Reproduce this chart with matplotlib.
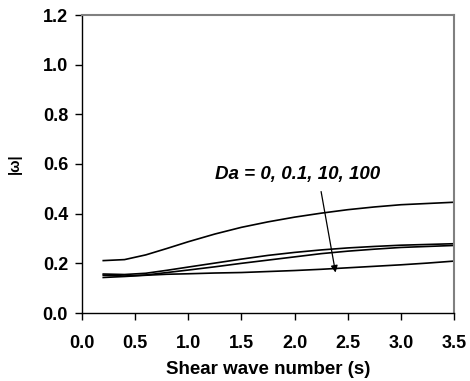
import matplotlib
matplotlib.use("Agg")
import matplotlib.pyplot as plt

plt.rcParams['font.family'] = ['Liberation Sans', 'DejaVu Sans']

# shear wave number s
s = [0.2, 0.4, 0.6, 0.8, 1.0, 1.25, 1.5, 1.75, 2.0, 2.25, 2.5, 2.75, 3.0, 3.25, 3.5]

# |omega| for Da = 0, 0.1, 10, 100
omega_a = [0.211, 0.215, 0.234, 0.260, 0.287, 0.318, 0.345, 0.367, 0.386,
           0.402, 0.416, 0.427, 0.436, 0.441, 0.446]
omega_b = [0.157, 0.155, 0.160, 0.172, 0.185, 0.201, 0.217, 0.232, 0.244,
           0.254, 0.262, 0.268, 0.273, 0.276, 0.279]
omega_c = [0.152, 0.149, 0.153, 0.163, 0.173, 0.186, 0.200, 0.213, 0.226,
           0.239, 0.249, 0.257, 0.264, 0.268, 0.272]
omega_d = [0.143, 0.147, 0.152, 0.156, 0.158, 0.161, 0.163, 0.167, 0.171,
           0.176, 0.182, 0.188, 0.194, 0.201, 0.209]

xticks = [0.0, 0.5, 1.0, 1.5, 2.0, 2.5, 3.0, 3.5]
yticks = [0.0, 0.2, 0.4, 0.6, 0.8, 1.0, 1.2]

fig = plt.figure(figsize=(4.7, 3.81), dpi=100)
ax = fig.add_axes([82/470, 1 - 313/381, (454-82)/470, (313-15)/381])

for y in [omega_a, omega_b, omega_c, omega_d]:
    ax.plot(s, y, color='black', lw=1.2)

# arrow pointing through the curves in order of Da
ax.annotate('', xy=(2.39, 0.152), xytext=(2.245, 0.50),
            arrowprops=dict(arrowstyle='-|>', color='black', lw=0.9,
                            mutation_scale=10))
ax.text(2.03, 0.557, 'Da = 0, 0.1, 10, 100', fontsize=13.5,
        fontweight='bold', style='italic', ha='center', va='center')

ax.set_xlim(0, 3.5)
ax.set_ylim(0, 1.2)
ax.set_xticks(xticks)
ax.set_yticks(yticks)
ax.set_xticklabels(['%.1f' % v for v in xticks], fontsize=13, fontweight='bold')
ax.set_yticklabels(['%.1f' % v for v in yticks], fontsize=13, fontweight='bold')
ax.tick_params(direction='out', length=5, width=1)
ax.tick_params(axis='x', pad=11)
ax.tick_params(axis='y', pad=5)
ax.set_xlabel('Shear wave number (s)', fontsize=13.5, fontweight='bold', labelpad=6)
ax.set_ylabel('|ω|', fontsize=10.5, fontweight='bold', labelpad=15)

for side in ['left', 'bottom']:
    ax.spines[side].set_color('black')
    ax.spines[side].set_linewidth(1)
for side in ['top', 'right']:
    ax.spines[side].set_color('#808080')
    ax.spines[side].set_linewidth(1.5)

fig.savefig('out.png', dpi=100)
